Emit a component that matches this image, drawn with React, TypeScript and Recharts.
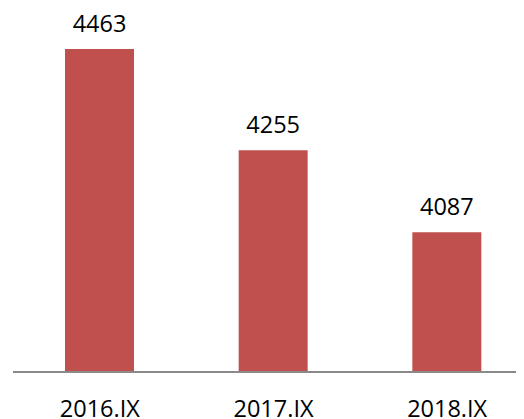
import React from 'react';
import { BarChart, Bar, XAxis, YAxis, LabelList } from 'recharts';

const categories = ['2016.IX', '2017.IX', '2018.IX'];
const values = [4463, 4255, 4087];

const data = categories.map((c, i) => ({ name: c, value: values[i] }));

export default function App() {
  return (
    <div style={{ width: 516, height: 411, overflow: 'hidden' }}>
      <BarChart
        width={526}
        height={411}
        data={data}
        margin={{ top: 23, right: 0, bottom: 17, left: 5 }}
        barSize={69}
      >
        <XAxis
          dataKey="name"
          axisLine={{ stroke: '#8a8a8a', strokeWidth: 2 }}
          tickLine={false}
          tickMargin={22}
          tick={{ fill: '#000000', fontSize: 23.5, fontFamily: 'Open Sans' }}
          interval={0}
        />
        <YAxis hide domain={[3800, 4500]} allowDataOverflow />
        <Bar dataKey="value" fill="#C0504D" isAnimationActive={false}>
          <LabelList
            dataKey="value"
            position="top"
            offset={17}
            style={{ fill: '#000000', fontSize: 23.5, fontFamily: 'Open Sans' }}
          />
        </Bar>
      </BarChart>
    </div>
  );
}
